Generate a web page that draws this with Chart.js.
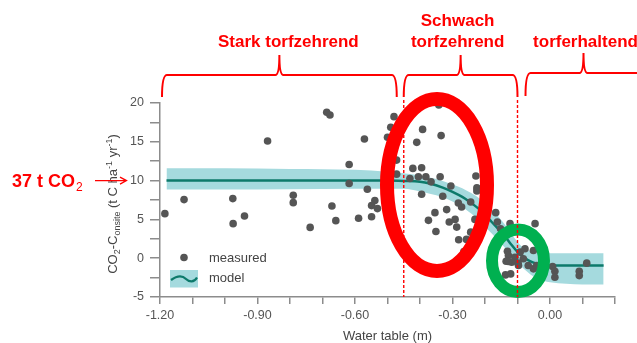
<!DOCTYPE html>
<html>
<head>
<meta charset="utf-8">
<script src="https://cdn.jsdelivr.net/npm/chart.js@4.4.0/dist/chart.umd.min.js"></script>
<style>
html, body { margin: 0; padding: 0; background: #fff; }
#wrap { width: 637px; height: 343px; }
</style>
</head>
<body>
<div id="wrap"><canvas id="myChart" width="637" height="343"></canvas></div>
<script>
// gemessene Punkte: Wasserstand (m) / CO2-C (t C ha-1 yr-1)
const measuredX = [-1.185, -1.126, -0.976, -0.975, -0.94, -0.869, -0.79, -0.79, -0.738, -0.687,
    -0.677, -0.671, -0.659, -0.618, -0.618, -0.589, -0.571, -0.562, -0.549, -0.539,
    -0.549, -0.531, -0.48, -0.49, -0.50, -0.472, -0.472, -0.431, -0.422, -0.41,
    -0.342, -0.392, -0.335, -0.395, -0.405, -0.382, -0.366, -0.338, -0.395, -0.33,
    -0.305, -0.228, -0.225, -0.225, -0.282, -0.272, -0.244, -0.354, -0.318, -0.31,
    -0.292, -0.287, -0.374, -0.351, -0.231, -0.244, -0.257, -0.281, -0.265, -0.167,
    -0.162, -0.152, -0.123, -0.131, -0.128, -0.135, -0.137, -0.121, -0.108, -0.046,
    -0.092, -0.077, -0.051, -0.082, -0.097, -0.067, -0.051, -0.041, -0.098, 0.008,
    0.015, 0.015, 0.09, 0.09, 0.113, -0.118, -0.128];
const measuredY = [5.74, 7.55, 7.68, 4.45, 5.43, 15.1, 8.11, 7.16, 3.97, 18.8,
    18.46, 6.73, 4.84, 12.08, 9.62, 5.14, 15.36, 8.89, 5.35, 7.42,
    6.78, 6.39, 18.24, 16.87, 15.58, 12.64, 10.83, 10.27, 11.57, 14.93,
    19.75, 16.6, 15.8, 11.65, 10.5, 10.5, 9.84, 10.5, 8.24, 7.98,
    9.31, 10.6, 9.06, 8.67, 7.12, 6.6, 7.25, 5.87, 6.26, 4.66,
    5.0, 4.01, 4.88, 3.45, 5.0, 3.36, 2.42, 2.38, 0.87, 5.87,
    4.66, 3.8, 4.45, 0.9, 0.35, -0.39, -2.15, -2.02, 0.13, 4.45,
    0.78, 1.21, 1.0, -0.08, -0.94, -0.94, -1.37, -0.94, -0.64, -1.07,
    -1.68, -2.46, -1.68, -2.24, -0.64, -0.52, -0.43];

// Modellkurve mit Unsicherheitsband
const modelX = [-1.18, -1.0, -0.8, -0.6, -0.5, -0.45, -0.4, -0.37, -0.33, -0.3, -0.27, -0.25, -0.22, -0.2,
    -0.18, -0.16, -0.14, -0.12, -0.1, -0.08, -0.06, -0.04, -0.02, 0, 0.05, 0.1, 0.165];
const modelY = [10, 10, 10, 10, 10, 9.95, 9.85, 9.63, 9.1, 8.55, 7.9, 7.35, 6.4, 5.6,
    4.7, 3.8, 2.9, 1.8, 0.8, 0.1, -0.4, -0.7, -0.85, -0.93, -0.95, -0.95, -0.95];
const bandUpper = [11.6, 11.6, 11.5, 11.4, 11.15, 10.95, 10.65, 10.4, 9.95, 9.5, 9.0, 8.55, 7.8, 7.1,
    6.3, 5.4, 4.4, 3.2, 2.1, 1.3, 0.9, 0.7, 0.65, 0.65, 0.65, 0.65, 0.65];
const bandLower = [8.85, 8.85, 8.9, 8.95, 8.95, 8.95, 8.6, 8.3, 7.85, 7.3, 6.6, 6.0, 5.0, 4.1,
    3.2, 2.3, 1.4, 0.3, -0.6, -1.4, -2.1, -2.6, -2.9, -3.1, -3.3, -3.4, -3.4];

// Achsenbeschriftung
const xTickLabels = ['-1.20', '-0.90', '-0.60', '-0.30', '0.00'];
const yTickLabels = ['-5', '0', '5', '10', '15', '20'];

// Bereiche
const zoneBounds = [-0.45, -0.10];
const zoneLabels = [['Stark torfzehrend'], ['Schwach', 'torfzehrend'], ['torferhaltend']];
const markLevel = 10;
const markLabel = '37 t CO';

const RED = '#ff0000';
const FONT = '"Liberation Sans", Arial, sans-serif';
Chart.defaults.font.family = FONT;

function toPoints(xs, ys) {
    return xs.map((x, i) => ({ x: x, y: ys[i] }));
}

function drawBrace(c, x1, x2, xp, yLine, yEnd, yPeak, openRight) {
    c.beginPath();
    c.moveTo(x1, yEnd);
    c.quadraticCurveTo(x1, yLine, x1 + 5, yLine);
    c.lineTo(xp - 4, yLine);
    c.quadraticCurveTo(xp, yLine, xp, yPeak);
    c.quadraticCurveTo(xp, yLine, xp + 4, yLine);
    if (openRight) {
        c.lineTo(x2, yLine);
    } else {
        c.lineTo(x2 - 5, yLine);
        c.quadraticCurveTo(x2, yLine, x2, yEnd);
    }
    c.stroke();
}

// Text mit Hoch-/Tiefstellung, gedreht
function drawRichVertical(c, cx, cy, runs) {
    let total = 0;
    runs.forEach(r => {
        c.font = r.size + 'px ' + FONT;
        r.w = c.measureText(r.t).width;
        total += r.w;
    });
    c.save();
    c.translate(cx, cy);
    c.rotate(-Math.PI / 2);
    c.textAlign = 'left';
    c.textBaseline = 'alphabetic';
    let x = -total / 2;
    runs.forEach(r => {
        c.font = r.size + 'px ' + FONT;
        c.fillText(r.t, x, r.dy || 0);
        x += r.w;
    });
    c.restore();
}

const overlayPlugin = {
    id: 'overlay',
    afterDraw(chart) {
        const c = chart.ctx;
        const xs = chart.scales.x;
        const ys = chart.scales.y;
        const area = chart.chartArea;
        const b1 = xs.getPixelForValue(zoneBounds[0]);
        const b2 = xs.getPixelForValue(zoneBounds[1]);

        // Achsentitel
        c.save();
        c.fillStyle = '#444';
        c.font = '13px ' + FONT;
        c.textAlign = 'center';
        c.textBaseline = 'alphabetic';
        c.fillText('Water table (m)', (area.left + area.right) / 2, 340);
        drawRichVertical(c, 117, 204, [
            { t: 'CO', size: 13 },
            { t: '2', size: 9, dy: 3 },
            { t: '-C', size: 13 },
            { t: 'onsite', size: 9, dy: 3 },
            { t: ' (t C ha', size: 13 },
            { t: '-1', size: 9, dy: -5 },
            { t: ' yr', size: 13 },
            { t: '-1', size: 9, dy: -5 },
            { t: ')', size: 13 }
        ]);

        // Legende
        c.fillStyle = '#555';
        c.beginPath();
        c.arc(184, 257.5, 3.8, 0, Math.PI * 2);
        c.fill();
        c.fillStyle = 'rgb(165,218,222)';
        c.fillRect(170, 270, 28, 17.5);
        c.strokeStyle = '#0d7a6b';
        c.lineWidth = 2.2;
        c.beginPath();
        c.moveTo(171, 280);
        c.bezierCurveTo(178, 275, 183, 276, 186, 279);
        c.bezierCurveTo(189, 282, 194, 283, 197, 277.5);
        c.stroke();
        c.fillStyle = '#444';
        c.font = '13px ' + FONT;
        c.textAlign = 'left';
        c.textBaseline = 'middle';
        c.fillText('measured', 209, 258);
        c.fillText('model', 209, 278);

        // Ellipsen
        c.lineWidth = 14;
        c.strokeStyle = RED;
        c.beginPath();
        c.ellipse(437, 185, 50, 86, 0, 0, Math.PI * 2);
        c.stroke();
        c.lineWidth = 12;
        c.strokeStyle = '#00b050';
        c.beginPath();
        c.ellipse(518, 260.7, 26, 31.3, 0, 0, Math.PI * 2);
        c.stroke();

        // Trennlinien
        c.strokeStyle = RED;
        c.lineWidth = 1.4;
        c.setLineDash([3, 2]);
        [b1, b2].forEach(px => {
            c.beginPath();
            c.moveTo(px, 100);
            c.lineTo(px, area.bottom);
            c.stroke();
        });
        c.setLineDash([]);

        // Klammern
        c.lineWidth = 2;
        const left = xs.getPixelForValue(-1.2) + 2;
        drawBrace(c, left, b1 - 7, (left + b1 - 7) / 2, 75, 97, 55, false);
        drawBrace(c, b1, b2, (b1 + b2) / 2, 75, 97, 55, false);
        drawBrace(c, b2 + 8, 640, b2 + 66, 73, 96, 53, true);

        // Bereichstexte
        c.fillStyle = RED;
        c.font = 'bold 17px ' + FONT;
        c.textAlign = 'center';
        c.textBaseline = 'alphabetic';
        c.fillText(zoneLabels[0][0], (left + b1 - 7) / 2 + 9, 46.5);
        c.fillText(zoneLabels[1][0], (b1 + b2) / 2 - 3, 25.7);
        c.fillText(zoneLabels[1][1], (b1 + b2) / 2 - 3, 46.5);
        c.fillText(zoneLabels[2][0], b2 + 68, 46.5);

        // 37 t CO2 Markierung
        const yMark = ys.getPixelForValue(markLevel);
        c.textAlign = 'left';
        c.font = 'bold 18px ' + FONT;
        c.fillText(markLabel, 12, yMark + 6.5);
        const w = c.measureText(markLabel).width;
        c.font = '12px ' + FONT;
        c.fillText('2', 12 + w + 1, yMark + 10);
        c.lineWidth = 1.3;
        c.beginPath();
        c.moveTo(95, yMark);
        c.lineTo(126, yMark);
        c.moveTo(120, yMark - 3.5);
        c.lineTo(126.5, yMark);
        c.lineTo(120, yMark + 3.5);
        c.stroke();
        c.restore();
    }
};

const ctx = document.getElementById('myChart').getContext('2d');
let myChart = new Chart(ctx, {
    type: 'scatter',
    data: {
        datasets: [{
            label: 'measured',
            data: toPoints(measuredX, measuredY),
            backgroundColor: '#555',
            borderWidth: 0,
            pointRadius: 3.8
        }, {
            label: 'model',
            type: 'line',
            data: toPoints(modelX, modelY),
            borderColor: '#0d7a6b',
            borderWidth: 2.5,
            pointRadius: 0,
            fill: false,
            cubicInterpolationMode: 'monotone'
        }, {
            label: 'upper',
            type: 'line',
            data: toPoints(modelX, bandUpper),
            borderColor: 'rgba(0,0,0,0)',
            borderWidth: 0,
            pointRadius: 0,
            backgroundColor: 'rgb(165,218,222)',
            fill: '+1',
            cubicInterpolationMode: 'monotone'
        }, {
            label: 'lower',
            type: 'line',
            data: toPoints(modelX, bandLower),
            borderColor: 'rgba(0,0,0,0)',
            borderWidth: 0,
            pointRadius: 0,
            fill: false,
            cubicInterpolationMode: 'monotone'
        }]
    },
    options: {
        responsive: false,
        animation: false,
        layout: { padding: { top: 103, right: 22, left: 0, bottom: 0 } },
        plugins: { legend: { display: false }, tooltip: { enabled: false } },
        scales: {
            x: {
                type: 'linear',
                min: -1.2,
                max: 0.2,
                border: { display: true, color: '#8c8c8c', width: 1.5 },
                grid: { drawOnChartArea: false, drawTicks: true, tickLength: 7, color: '#8c8c8c', lineWidth: 1.5 },
                ticks: {
                    stepSize: 0.1,
                    autoSkip: false,
                    maxRotation: 0,
                    padding: 4,
                    color: '#555',
                    font: { size: 12.5 },
                    callback: function (v) {
                        const k = Math.round(v * 10);
                        if (k % 3 !== 0 || k > 0) return '';
                        return xTickLabels[(k + 12) / 3];
                    }
                },
                afterFit: function (s) { s.height = 46; }
            },
            y: {
                min: -5,
                max: 20,
                border: { display: true, color: '#8c8c8c', width: 1.5 },
                grid: { drawOnChartArea: false, drawTicks: true, tickLength: 10, color: '#8c8c8c', lineWidth: 1.5 },
                ticks: {
                    stepSize: 2.5,
                    autoSkip: false,
                    padding: 6,
                    color: '#555',
                    font: { size: 12.5 },
                    callback: function (v) {
                        if (Math.abs(v % 5) > 0.001) return '';
                        return yTickLabels[(v + 5) / 5];
                    }
                },
                afterFit: function (s) { s.height; s.width = 160; }
            }
        }
    },
    plugins: [overlayPlugin]
});
</script>
</body>
</html>
